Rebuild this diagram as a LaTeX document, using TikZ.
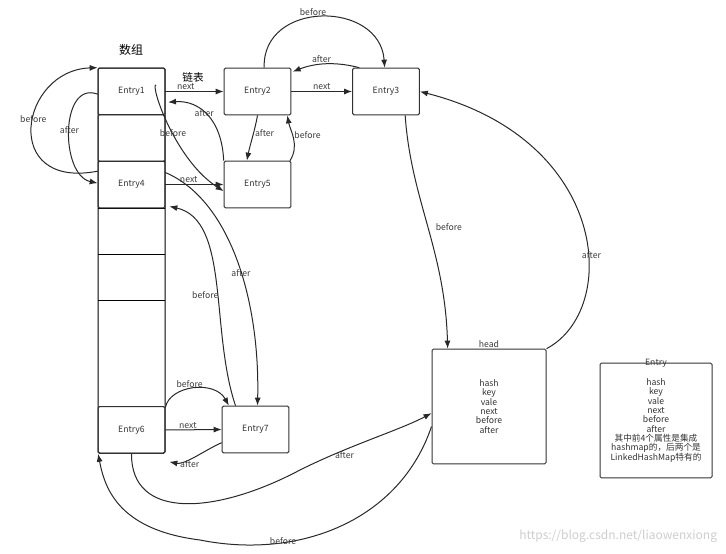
\documentclass[tikz,border=0pt]{standalone}
\usepackage{fontspec}
\setmainfont{Noto Sans CJK SC}
\usetikzlibrary{arrows.meta}
\tikzset{every picture/.style={line width=0.75pt}}
\tikzset{
  entry/.style={draw, rounded corners=1pt, minimum width=50pt, minimum height=35pt, inner sep=0pt, font=\fontsize{6.5}{7}\selectfont, color={rgb, 255:red, 50; green, 50; blue, 50 }},
  link/.style={-{Latex[length=6pt,width=4.5pt]}, draw={rgb, 255:red, 40; green, 40; blue, 40 }},
  lbl/.style={font=\fontsize{6.5}{7}\selectfont, color={rgb, 255:red, 60; green, 60; blue, 60 }, inner sep=0.75pt}
}
\begin{document}
\begin{tikzpicture}[x=0.75pt,y=0.75pt,yscale=-1,xscale=1]
\useasboundingbox (0,0) rectangle (726,554);

% Array
\draw [rounded corners=1pt] (98,68) rectangle (165,453);
\foreach \y in {161,208,254,300} \draw (98,\y) -- (165,\y);
\node [entry] (e1) at (131.5,91.5) {Entry1};
\node [entry] (c2) at (131.5,138) {};
\node [entry] (e4) at (131.5,184.5) {Entry4};
\node [entry] (e6) at (131.5,430) {Entry6};
% Linked entries
\node [entry] (e2) at (257.5,91.5) {Entry2};
\node [entry] (e3) at (386,91.5) {Entry3};
\node [entry] (e5) at (257.5,184.5) {Entry5};
\node [entry] (e7) at (255.5,429.5) {Entry7};
\node [entry, minimum width=85.5pt, minimum height=86pt, align=center] (head) at (489,406.5) {hash\\key\\vale\\next\\before\\after};
\node [entry, minimum width=84pt, minimum height=86pt, align=center] (leg) at (656,420.5) {hash\\key\\vale\\next\\before\\after\\其中前4个属性是集成\\hashmap的，后两个是\\LinkedHashMap特有的};

% Titles
\node [font=\small] (arr) at (131,50) {数组};
\node [font=\footnotesize] (lst) at (193,77) {链表};
\node [lbl, anchor=south] (hl) at (head.north) {head};
\node [lbl, anchor=south] (el) at ([yshift=5pt]leg.north) {Entry};

% next
\draw [link] (e1.east) -- node [lbl, above, pos=0.35] {next} (e2.west);
\draw [link] (e2.east) -- node [lbl, above] {next} (e3.west);
\draw [link] (e4.east) -- node [lbl, above, pos=0.4] {next} (e5.west);
\draw [link] (e6.east) -- node [lbl, above, pos=0.4] {next} (e7.west);

% before / after, top row
\draw [link] ([xshift=-20pt]e3.north) .. controls (330,60) and (310,65) .. node [lbl, above] {after} ([xshift=1pt,yshift=3pt]e2.north east);
\draw [link] ([xshift=5pt]e2.north) .. controls (262,0) and (380,0) .. node [lbl, above, pos=0.45] {before} ([xshift=-1pt]e3.north);
\draw [link] ([xshift=0pt]e2.south) .. controls (255,130) and (250,145) .. node [lbl, right, pos=0.4] {after} ([xshift=-8pt]e5.north);
\draw [link] ([xshift=-1pt]e5.north east) .. controls (300,145) and (290,130) .. node [lbl, right, pos=0.55] {before} ([xshift=-3pt]e2.south east);
\draw [link] (e5.north west) .. controls (222,120) and (200,100) .. node [lbl, pos=0.55] {after} ([xshift=2pt,yshift=8pt]e1.east);
\draw [link] ([xshift=-7pt,yshift=-5pt]e1.east) .. controls (150,85) and (175,160) .. node [lbl, pos=0.55] {before} ([yshift=5pt]e5.west);
\draw [link] ([yshift=2pt]e1.west) .. controls (60,80) and (60,175) .. node [lbl, pos=0.5] {after} ([yshift=-1pt]e4.west);
\draw [link] ([yshift=-10pt]e4.west) .. controls (0,190) and (20,70) .. node [lbl, pos=0.55] {before} (e1.north west);

% before / after, lower part
\draw [link] ([yshift=-9pt]e4.east) .. controls (230,200) and (260,300) .. node [lbl, pos=0.55] {after} ([xshift=1.5pt]e7.north);
\draw [link] ([xshift=-15pt]e7.north) .. controls (210,330) and (230,220) .. node [lbl, pos=0.45, left=-2pt] {before} ([xshift=3pt,yshift=-1.5pt]e4.south east);
\draw [link] ([yshift=1pt]e6.north east) .. controls (170,385) and (215,380) .. node [lbl, above, pos=0.45] {before} ([xshift=-20pt]e7.north);
\draw [link] ([yshift=-8pt]e7.south west) .. controls (205,450) and (185,465) .. node [lbl, below, pos=0.6] {after} ([xshift=3pt,yshift=6pt]e6.south east);
\draw [link] ([xshift=0pt]e6.south) .. controls (131,520) and (215,515) .. (300,470) .. controls (350,445) and (400,430) .. node [lbl, pos=0.3, below] {after} ([yshift=5pt]head.west);
\draw [link] ([yshift=15pt]head.west) .. controls (400,520) and (300,560) .. (200,540) .. controls (120,530) and (105,490) .. ([xshift=-25pt]e6.south);
\node [lbl] (bl) at (283,541) {before};

% head
\draw [link] ([xshift=-11pt]e3.south east) .. controls (411,200) and (445,250) .. node [lbl, pos=0.5, right=5pt] {before} ([xshift=-31pt]head.north);
\draw [link] (head.north east) .. controls (620,310) and (610,140) .. node [lbl, pos=0.4, right=-6pt] {after} (e3.east);

% Watermark
\node [font=\small, color={rgb, 255:red, 205; green, 205; blue, 205 }, anchor=east] (wm) at (722,536) {https://blog.csdn.net/liaowenxiong};
\end{tikzpicture}
\end{document}
